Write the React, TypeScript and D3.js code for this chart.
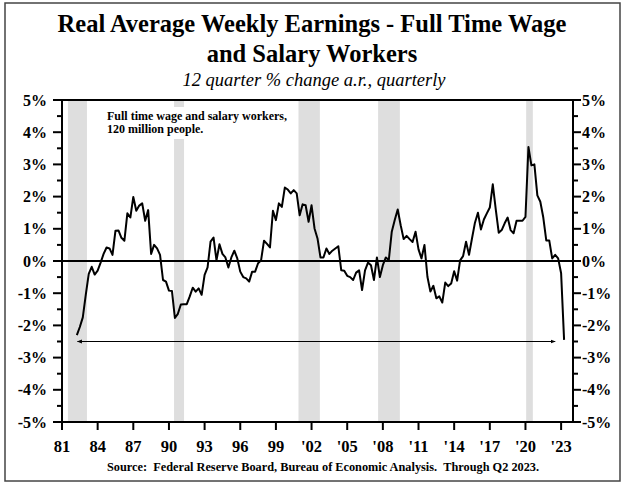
import React from "react";
import * as d3 from "d3";

const W = 624;
const H = 484;

// y axis labels (percent)
const yTickValues = [5, 4, 3, 2, 1, 0, -1, -2, -3, -4, -5];
const xTickYears = [1981, 1984, 1987, 1990, 1993, 1996, 1999, 2002, 2005, 2008, 2011, 2014, 2017, 2020, 2023];
const xTickLabels = ["81", "84", "87", "90", "93", "96", "99", "'02", "'05", "'08", "'11", "'14", "'17", "'20", "'23"];

// shaded recession periods (decimal years)
const recessions = [
  [1981.5, 1983.1],
  [1990.43, 1991.27],
  [2000.9, 2002.7],
  [2007.6, 2009.43],
  [2020.06, 2020.62],
];

// first observation: Q2 1982, quarterly after that
const firstQuarter = 1982.25;
const earnings = [
  -2.3, -2.05, -1.75, // 1982
  -1.05, -0.4, -0.18, -0.42, // 1983
  -0.3, -0.05, 0.22, 0.42, // 1984
  0.39, 0.19, 0.94, 0.95, // 1985
  0.72, 0.63, 1.48, 1.35, // 1986
  1.99, 1.56, 1.72, 1.79, // 1987
  1.25, 1.58, 0.22, 0.5, // 1988
  0.39, 0.19, -0.59, -0.64, // 1989
  -0.92, -0.93, -1.77, -1.64, // 1990
  -1.35, -1.34, -1.34, -1.1, // 1991
  -0.83, -0.95, -0.85, -1.05, // 1992
  -0.43, -0.2, 0.6, 0.73, // 1993
  0.02, 0.52, 0.22, 0.11, // 1994
  -0.2, 0.11, 0.32, 0.08, // 1995
  -0.33, -0.5, -0.54, -0.64, // 1996
  -0.33, -0.33, -0.07, 0.02, // 1997
  0.63, 0.53, 0.42, 1.56, // 1998
  1.27, 1.79, 1.68, 2.28, // 1999
  2.22, 2.1, 2.2, 2.1, // 2000
  1.42, 1.76, 1.73, 1.22, // 2001
  1.73, 1.01, 0.7, 0.11, // 2002
  0.11, 0.39, 0.22, 0.32, // 2003
  0.39, 0.46, -0.29, -0.3, // 2004
  -0.46, -0.5, -0.59, -0.36, // 2005
  -0.29, -0.9, -0.29, -0.05, // 2006
  -0.13, -0.59, 0.11, -0.5, // 2007
  -0.13, 0.11, 0.03, 0.91, // 2008
  1.27, 1.6, 1.11, 0.68, // 2009
  0.78, 0.68, 0.59, 0.91, // 2010
  0.36, 0.08, 0.5, -0.49, // 2011
  -0.95, -0.77, -1.16, -1.1, // 2012
  -1.29, -0.67, -0.78, -0.7, // 2013
  -0.32, -0.61, 0.02, 0.15, // 2014
  0.6, 0.19, 0.7, 1.19, // 2015
  1.5, 0.98, 1.29, 1.48, // 2016
  1.66, 2.38, 1.6, 0.88, // 2017
  0.96, 1.17, 1.35, 0.96, // 2018
  0.86, 1.25, 1.25, 1.25, // 2019
  1.37, 3.54, 2.97, 3.0, // 2020
  2.04, 1.84, 1.35, 0.64, // 2021
  0.64, 0.08, 0.19, 0.08, // 2022
  -0.38, -2.45, // 2023
];

const arrowSpan = [1982.3, 2022.5];
const arrowLevel = -2.5;
const noteLines = ["Full time wage and salary workers,", "120 million people."];

const serif = "'Liberation Serif', 'Times New Roman', serif";

export default function App() {
  const left = 62;
  const right = 573;
  const top = 100;
  const bottom = 422;

  const x = d3.scaleLinear().domain([1981, 2024]).range([left, right]);
  const y = d3.scaleLinear().domain([-5, 5]).range([bottom, top]);

  const points = earnings.map((v, i) => ({ t: firstQuarter + i / 4, v }));
  const line = d3
    .line<{ t: number; v: number }>()
    .x((d) => x(d.t))
    .y((d) => y(d.v));

  const minorTicks = y.ticks(20).filter((v) => !Number.isInteger(v));

  return (
    <svg
      width={W}
      height={H}
      style={{ position: "absolute", left: 0, top: 0, background: "#fff" }}
      fontFamily={serif}
    >
      <defs>
        <marker id="ah" viewBox="0 0 10 10" refX="9" refY="5" markerWidth="5" markerHeight="5" orient="auto-start-reverse">
          <path d="M0,1 L10,5 L0,9 z" fill="#000" />
        </marker>
      </defs>
      <rect x={5} y={3} width={615} height={478} fill="none" stroke="#444" strokeWidth={1.5} />

      <text x={W / 2} y={32} textAnchor="middle" fontSize={24.5} fontWeight="bold">
        Real Average Weekly Earnings - Full Time Wage
      </text>
      <text x={W / 2} y={62} textAnchor="middle" fontSize={24.5} fontWeight="bold">
        and Salary Workers
      </text>
      <text x={W / 2 + 2} y={86} textAnchor="middle" fontSize={18.5} fontStyle="italic">
        12 quarter % change a.r., quarterly
      </text>

      {recessions.map(([a, b], i) => (
        <rect key={i} x={x(a)} y={top} width={x(b) - x(a)} height={bottom - top} fill="#dedede" />
      ))}

      <rect x={100} y={107} width={196} height={32} fill="#fff" />
      {noteLines.map((s, i) => (
        <text key={i} x={107} y={120 + i * 13} fontSize={12} fontWeight="bold">
          {s}
        </text>
      ))}

      <line x1={left} x2={right} y1={y(0)} y2={y(0)} stroke="#000" strokeWidth={2} />

      <line
        x1={x(arrowSpan[0])}
        x2={x(arrowSpan[1])}
        y1={y(arrowLevel)}
        y2={y(arrowLevel)}
        stroke="#000"
        strokeWidth={1}
        markerStart="url(#ah)"
        markerEnd="url(#ah)"
      />

      <path d={line(points) ?? ""} fill="none" stroke="#000" strokeWidth={2} strokeLinejoin="round" />

      <rect x={left} y={top} width={right - left} height={bottom - top} fill="none" stroke="#000" strokeWidth={2} />

      {yTickValues.map((v) => (
        <g key={v}>
          <line x1={left - 9} x2={left} y1={y(v)} y2={y(v)} stroke="#000" strokeWidth={2} />
          <line x1={right} x2={right + 8} y1={y(v)} y2={y(v)} stroke="#000" strokeWidth={2} />
          <text x={47} y={y(v) + 5.5} textAnchor="end" fontSize={16} fontWeight="bold">
            {v}%
          </text>
          <text x={582} y={y(v) + 5.5} textAnchor="start" fontSize={16} fontWeight="bold">
            {v}%
          </text>
        </g>
      ))}
      {minorTicks.map((v) => (
        <g key={"m" + v}>
          <line x1={left - 5} x2={left} y1={y(v)} y2={y(v)} stroke="#000" strokeWidth={2} />
          <line x1={right} x2={right + 5} y1={y(v)} y2={y(v)} stroke="#000" strokeWidth={2} />
        </g>
      ))}

      {xTickYears.map((t, i) => (
        <g key={t}>
          <line x1={x(t)} x2={x(t)} y1={bottom} y2={bottom + 8} stroke="#000" strokeWidth={2} />
          <text x={x(t)} y={bottom + 30} textAnchor="middle" fontSize={16.5} fontWeight="bold">
            {xTickLabels[i]}
          </text>
        </g>
      ))}

      <text x={323} y={471} textAnchor="middle" fontSize={12.3} fontWeight="bold">
        Source:{"\u00a0\u00a0"}Federal Reserve Board, Bureau of Economic Analysis.{"\u00a0\u00a0"}Through Q2 2023.
      </text>
    </svg>
  );
}
